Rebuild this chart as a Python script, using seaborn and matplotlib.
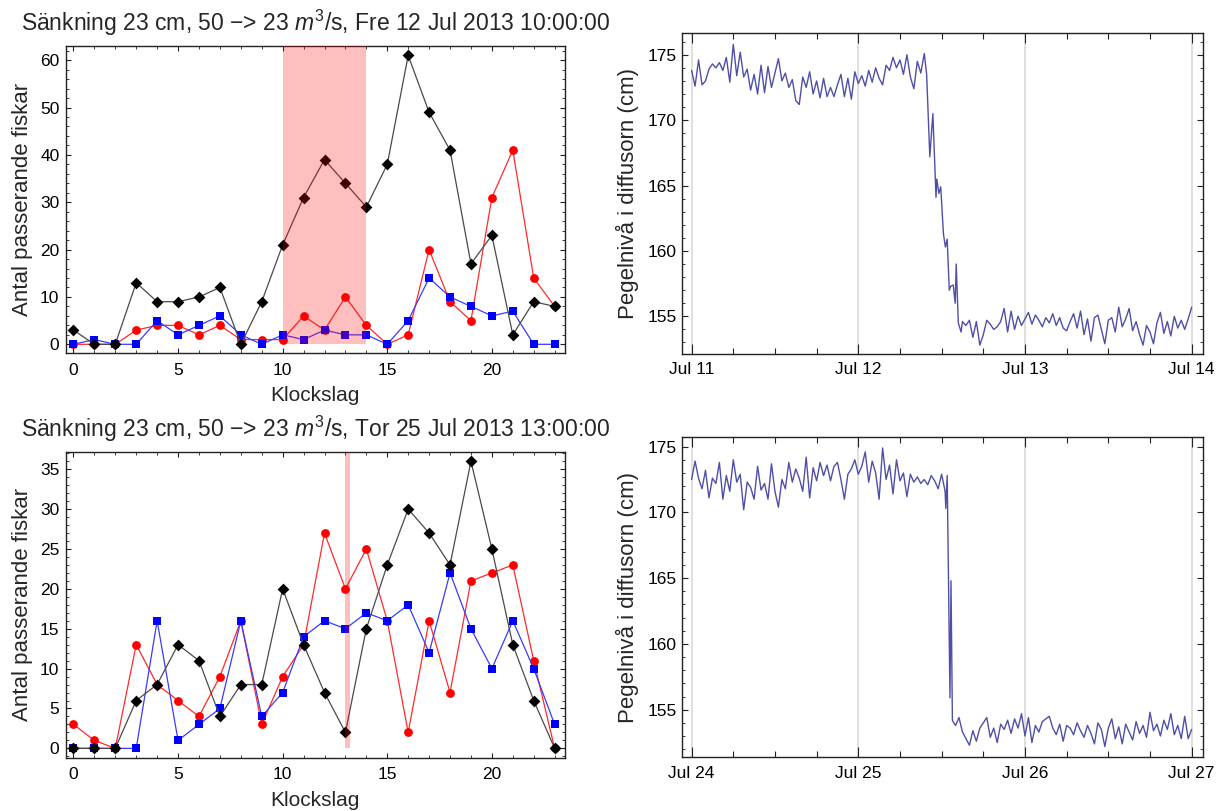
import numpy as np
import pandas as pd
import matplotlib
matplotlib.use("Agg")
import matplotlib.pyplot as plt
import matplotlib.dates as mdates
from matplotlib.ticker import MultipleLocator
import seaborn as sns

# ---------------- data: fish counts per hour ----------------
hours = list(range(24))

jul12_black = [3, 0, 0, 13, 9, 9, 10, 12, 0, 9, 21, 31, 39, 34, 29, 38, 61, 49, 41, 17, 23, 2, 9, 8]
jul12_red = [0, 0, 0, 3, 4, 4, 2, 4, 1, 1, 1, 6, 3, 10, 4, 0, 2, 20, 9, 5, 31, 41, 14, 8]
jul12_blue = [0, 1, 0, 0, 5, 2, 4, 6, 2, 0, 2, 1, 3, 2, 2, 0, 5, 14, 10, 8, 6, 7, 0, 0]
jul12_span = (10, 14)
jul12_title = "Sänkning 23 cm, 50 −> 23 $m^3$/s, Fre 12 Jul 2013 10:00:00"

jul25_black = [0, 0, 0, 6, 8, 13, 11, 4, 8, 8, 20, 13, 7, 2, 15, 23, 30, 27, 23, 36, 25, 13, 6, 0]
jul25_red = [3, 1, 0, 13, 8, 6, 4, 9, 16, 3, 9, 13, 27, 20, 25, 16, 2, 16, 7, 21, 22, 23, 11, 0]
jul25_blue = [0, 0, 0, 0, 16, 1, 3, 5, 16, 4, 7, 14, 16, 15, 17, 16, 18, 12, 22, 15, 10, 16, 10, 3]
jul25_span = (13.0, 13.2)
jul25_title = "Sänkning 23 cm, 50 −> 23 $m^3$/s, Tor 25 Jul 2013 13:00:00"

# ---------------- data: water level (cm) ----------------
# panel 1: start 2013-07-11, half-hour readings, then drop readings, then half-hour
tr_start = "2013-07-11"
tr_pre = [173.8, 172.6, 174.6, 172.7, 173.0, 173.9, 174.3, 174.0, 174.4, 173.8, 174.8, 172.9,
          175.8, 173.4, 175.2, 173.3, 173.9, 172.3, 173.5, 172.0, 174.2, 172.1, 174.1, 172.5,
          173.6, 174.7, 173.0, 173.6, 172.5, 173.1, 171.5, 171.2, 173.3, 172.5, 173.7, 172.0,
          173.0, 171.7, 173.2, 171.8, 172.5, 171.8, 172.7, 173.5, 171.8, 173.2, 171.6, 173.7,
          172.8, 173.4, 172.6, 173.8, 172.9, 174.0, 173.2, 172.7, 174.2, 173.8, 174.8, 174.0,
          174.6, 173.5, 175.0, 173.3, 172.4, 174.5, 173.6, 175.1]
tr_drop_hours = [33.84, 34.3, 34.74, 35.19, 35.3, 35.6, 35.87, 36.26, 36.54, 36.8, 37.1,
                 37.3, 37.67, 37.95, 38.1, 38.4, 38.8]
tr_drop = [173.5, 167.2, 170.5, 164.1, 165.5, 164.4, 164.9, 161.3, 160.3, 160.9, 157.0,
           157.3, 157.4, 156.0, 159.0, 154.5, 153.8]
tr_post_start = 39.0
tr_post = [154.6, 154.3, 154.7, 153.4, 154.6, 152.8, 153.6, 154.7, 154.4, 154.0, 154.2, 154.6,
           155.6, 153.8, 155.4, 154.0, 155.0, 154.3,
           154.8, 155.3, 154.4, 155.1, 154.7, 154.2, 154.9, 154.5, 155.2, 154.3, 154.9, 154.1,
           153.9, 154.6, 155.2, 154.1, 155.4, 153.6, 154.8, 153.1, 154.9, 155.1, 154.0, 152.9,
           154.7, 154.9,
           153.8, 155.7, 154.2, 154.8, 155.6, 153.9, 154.6, 153.6, 152.8, 154.3, 153.8, 152.9,
           154.5, 155.3, 153.7, 154.6, 153.5, 155.0, 154.1, 154.7, 154.0, 154.8,
           155.7]

# panel 2: start 2013-07-24
br_start = "2013-07-24"
br_pre = [172.5, 173.9, 172.6, 171.8, 173.2, 171.1, 172.6, 172.2, 173.8, 171.0, 172.8, 171.6,
          174.0, 172.3, 172.9, 170.2, 172.3, 171.9, 171.0, 173.5, 171.7, 172.2, 171.0, 173.7,
          171.6, 170.4, 172.5, 171.8, 173.8, 172.3, 173.3, 172.6, 171.6, 174.2, 171.1, 173.4,
          172.4, 173.8, 172.8, 173.6, 172.4, 173.5, 173.8, 172.5, 171.0, 172.9, 173.3, 174.0,
          172.9, 173.5, 174.6, 172.3, 173.9, 173.0, 171.0, 174.9, 172.5, 173.6, 171.4, 174.0,
          172.4, 173.0, 171.2, 172.9, 172.3, 172.7, 172.2, 172.5, 172.1, 172.8, 172.4, 171.8,
          172.9, 171.6]
br_drop_hours = [36.6, 36.8, 37.2, 37.35, 37.55, 37.75]
br_drop = [170.3, 172.8, 155.9, 164.8, 154.2, 154.0]
br_post_start = 38.0
br_post = [153.8, 154.4, 153.3, 152.8, 152.3, 153.4, 152.6, 153.6, 154.0, 154.4, 152.9, 153.6,
           152.5, 153.9, 153.5, 154.2, 153.2, 154.3, 153.6, 154.7,
           153.0, 154.4, 152.5, 153.8, 153.3, 154.1, 154.3, 154.5, 153.6, 153.1, 153.9, 152.6,
           153.8, 153.6, 153.1, 154.0, 153.4, 152.9, 153.8, 153.2, 152.4, 154.0, 153.5, 152.2,
           153.6, 154.3, 152.8, 153.7, 152.4, 153.9, 153.3, 152.7, 154.1, 153.2, 153.8, 152.9,
           154.8, 153.4, 153.9, 153.0, 154.2, 153.5, 154.7, 153.1, 153.8, 152.8, 154.5, 152.8,
           153.5]

# ---------------- style ----------------
sns.set_style("ticks")
plt.rcParams["font.family"] = ["Liberation Sans", "DejaVu Sans"]
plt.rcParams["mathtext.fontset"] = "custom"
plt.rcParams["mathtext.rm"] = "Liberation Sans"
plt.rcParams["mathtext.it"] = "Liberation Sans:italic"
plt.rcParams["axes.edgecolor"] = "#222222"
plt.rcParams["axes.linewidth"] = 1.0

fig = plt.figure(figsize=(12.2, 8.11), dpi=100)
W, H = 1220, 811


def pos(l, r, t, b):
    return [l / W, 1 - b / H, (r - l) / W, (b - t) / H]


ax_tl = fig.add_axes(pos(65.7, 565.1, 46.0, 353.3))
ax_bl = fig.add_axes(pos(65.7, 565.1, 451.7, 757.7))
ax_tr = fig.add_axes(pos(681.5, 1202.5, 33.3, 354.0))
ax_br = fig.add_axes(pos(681.5, 1202.5, 437.3, 757.3))

TICK_FS = 12.5
LABEL_FS = 15
YLABEL_FS = 16


def fish_panel(ax, black, red, blue, span, ylim, ymaj, ymin_step, title, title_base):
    df = pd.DataFrame({"hour": hours, "black": black, "red": red, "blue": blue})
    sns.lineplot(data=df, x="hour", y="red", ax=ax, color="#ff2a2a", lw=0.9,
                 estimator=None, zorder=2)
    sns.scatterplot(data=df, x="hour", y="red", ax=ax, color="#ff0000", marker="o",
                    s=40, linewidth=0, zorder=3)
    sns.lineplot(data=df, x="hour", y="blue", ax=ax, color="#3a3aff", lw=0.9,
                 estimator=None, zorder=4)
    sns.scatterplot(data=df, x="hour", y="blue", ax=ax, color="#0000ff", marker="s",
                    s=30, linewidth=0, zorder=5)
    sns.lineplot(data=df, x="hour", y="black", ax=ax, color="#4a4a4a", lw=0.9,
                 estimator=None, zorder=6)
    sns.scatterplot(data=df, x="hour", y="black", ax=ax, color="#000000", marker="D",
                    s=36, linewidth=0, zorder=7)
    ax.set_xlim(-0.37, 23.5)
    ax.set_ylim(*ylim)
    ax.fill_between(list(span), [0, 0], [ylim[1], ylim[1]], color="#ff0000",
                    alpha=0.25, linewidth=0, zorder=8)
    ax.xaxis.set_major_locator(MultipleLocator(5))
    ax.xaxis.set_minor_locator(MultipleLocator(1))
    ax.yaxis.set_major_locator(MultipleLocator(ymaj))
    ax.yaxis.set_minor_locator(MultipleLocator(ymin_step))
    ax.tick_params(which="both", direction="in", top=True, right=True,
                   labelsize=TICK_FS, colors="#222222", labelcolor="black")
    ax.tick_params(axis="x", which="major", length=3.5, width=0.8, pad=7)
    ax.tick_params(axis="y", which="major", length=3.5, width=0.8, pad=4.5)
    ax.tick_params(which="minor", length=2, width=0.6)
    ax.set_xlabel("Klockslag", fontsize=LABEL_FS)
    ax.set_ylabel("Antal passerande fiskar", fontsize=YLABEL_FS)
    ax.xaxis.set_label_coords(0.5, -0.108)
    ax.yaxis.set_label_coords(-0.066, 0.5)
    fig.text((65.7 + 565.1) / 2 / W, 1 - title_base / H, title, ha="center",
             va="baseline", fontsize=16.5)


fish_panel(ax_tl, jul12_black, jul12_red, jul12_blue, jul12_span, (-1.9, 63.0), 10, 2,
           jul12_title, 31)
fish_panel(ax_bl, jul25_black, jul25_red, jul25_blue, jul25_span, (-1.17, 37.2), 5, 1,
           jul25_title, 437)


def level_panel(ax, start, pre, drop_h, drop, post_start, post, ylim):
    h = np.concatenate([np.arange(len(pre)) * 0.5, np.array(drop_h),
                        post_start + np.arange(len(post)) * 0.5])
    v = np.concatenate([pre, drop, post])
    t0 = pd.Timestamp(start)
    df = pd.DataFrame({"time": t0 + pd.to_timedelta(h, unit="h"), "level": v})
    for d in range(4):
        ax.axvline(t0 + pd.Timedelta(days=d), color="#dcdcdc", lw=1.3, zorder=0)
    sns.lineplot(data=df, x="time", y="level", ax=ax, color="#4f4fa8", lw=1.0,
                 estimator=None, sort=False, zorder=3)
    ax.set_xlim(t0 - pd.Timedelta(days=0.0606), t0 + pd.Timedelta(days=3.065))
    ax.set_ylim(*ylim)
    ax.xaxis.set_major_locator(mdates.DayLocator())
    ax.xaxis.set_major_formatter(mdates.DateFormatter("%b %d"))
    ax.xaxis.set_minor_locator(mdates.HourLocator(byhour=[6, 12, 18]))
    ax.yaxis.set_major_locator(MultipleLocator(5))
    ax.yaxis.set_minor_locator(MultipleLocator(1))
    ax.tick_params(which="both", direction="in", top=True, right=True,
                   labelsize=TICK_FS, colors="#222222", labelcolor="black")
    ax.tick_params(axis="x", which="major", length=7.5, width=0.8, pad=6)
    ax.tick_params(axis="x", which="minor", length=4, width=0.8)
    ax.tick_params(axis="y", which="major", length=4.5, width=0.8, pad=3.6)
    ax.tick_params(axis="y", which="minor", length=2.2, width=0.6)
    ax.set_xlabel("")
    ax.set_ylabel("Pegelnivå i diffusorn (cm)", fontsize=YLABEL_FS)
    ax.yaxis.set_label_coords(-0.081, 0.5)


level_panel(ax_tr, tr_start, tr_pre, tr_drop_hours, tr_drop, tr_post_start, tr_post,
            (152.12, 176.64))
level_panel(ax_br, br_start, br_pre, br_drop_hours, br_drop, br_post_start, br_post,
            (151.38, 175.71))

fig.savefig("out.png", dpi=100, facecolor="white")
